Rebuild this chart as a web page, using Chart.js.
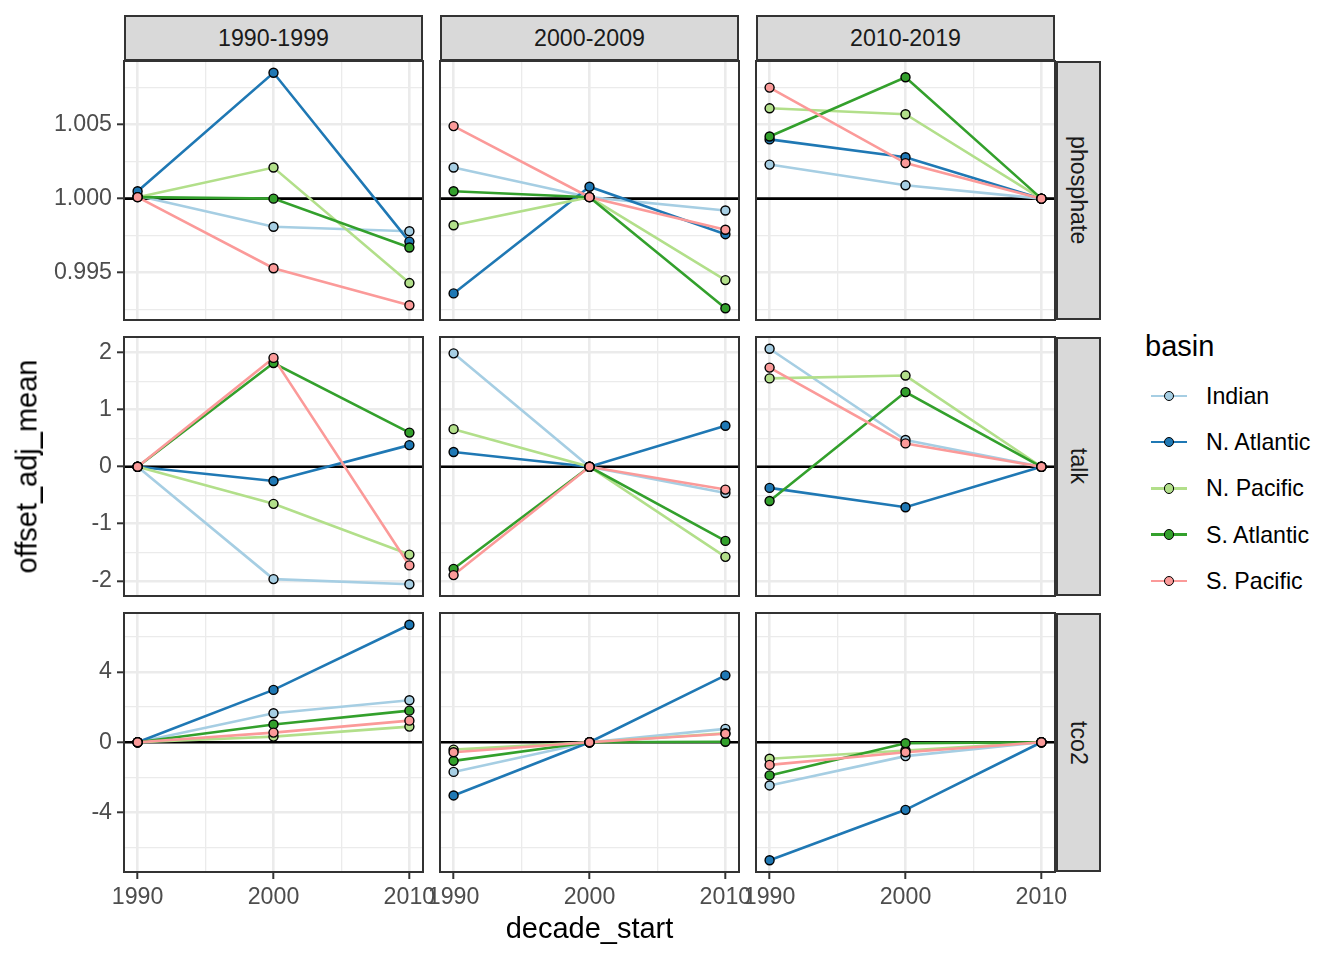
<!DOCTYPE html>
<html>
<head>
<meta charset="utf-8">
<title>offset_adj_mean by decade_start</title>
<script src="https://cdn.jsdelivr.net/npm/chart.js@4.4.0/dist/chart.umd.min.js"></script>
<style>
  body { margin: 0; background: #fff; font-family: "Liberation Sans", Arial, Helvetica, sans-serif; }
  #page { position: relative; width: 1344px; height: 960px; overflow: hidden; background: #fff; }
  canvas.panel { position: absolute; }
  .strip { position: absolute; box-sizing: border-box; background: #D9D9D9; border: 2px solid #333333;
           color: #1A1A1A; font-size: 23.2px; display: flex; align-items: center; justify-content: center; }
  .strip.right { writing-mode: vertical-rl; }
  .axis-title { position: absolute; font-size: 29px; line-height: 29px; height: 29px; color: #000; text-align: center; white-space: nowrap; }
  .legend-title { position: absolute; font-size: 29px; line-height: 29px; color: #000; }
  .legend-text { position: absolute; font-size: 23.2px; line-height: 46px; height: 46px; color: #000; white-space: nowrap; }
  .key-line { position: absolute; height: 2.6px; }
  .key-dot { position: absolute; box-sizing: border-box; width: 10.4px; height: 10.4px; border: 1.4px solid #000; border-radius: 50%; }
</style>
</head>
<body>
<div id="page"></div>
<script>
// ---- data -------------------------------------------------------------
const basins = ['Indian', 'N. Atlantic', 'N. Pacific', 'S. Atlantic', 'S. Pacific'];
const basinColors = ['#A6CEE3', '#1F78B4', '#B2DF8A', '#33A02C', '#FB9A99'];
const decadeStart = [1990, 2000, 2010];
const periods = ['1990-1999', '2000-2009', '2010-2019'];
const params = ['phosphate', 'talk', 'tco2'];

// one row per basin, one value per decade_start
const phosphate1990s = [
  [1.0002, 0.9981, 0.9978],
  [1.0005, 1.0085, 0.9971],
  [1.0001, 1.0021, 0.9943],
  [1.0001, 1.0000, 0.9967],
  [1.0001, 0.9953, 0.9928]
];
const phosphate2000s = [
  [1.0021, 1.0001, 0.9992],
  [0.9936, 1.0008, 0.9976],
  [0.9982, 1.0001, 0.9945],
  [1.0005, 1.0001, 0.9926],
  [1.0049, 1.0001, 0.9979]
];
const phosphate2010s = [
  [1.0023, 1.0009, 1.0000],
  [1.0040, 1.0028, 1.0000],
  [1.0061, 1.0057, 1.0000],
  [1.0042, 1.0082, 1.0000],
  [1.0075, 1.0024, 1.0000]
];
const talk1990s = [
  [0, -1.97, -2.06],
  [0, -0.25, 0.38],
  [0, -0.65, -1.54],
  [0, 1.82, 0.60],
  [0, 1.91, -1.73]
];
const talk2000s = [
  [1.99, 0, -0.46],
  [0.26, 0, 0.72],
  [0.66, 0, -1.58],
  [-1.79, 0, -1.30],
  [-1.90, 0, -0.40]
];
const talk2010s = [
  [2.07, 0.47, 0],
  [-0.37, -0.71, 0],
  [1.55, 1.60, 0],
  [-0.60, 1.31, 0],
  [1.74, 0.41, 0]
];
const tco21990s = [
  [0, 1.65, 2.39],
  [0, 2.98, 6.69],
  [0, 0.32, 0.89],
  [0, 1.01, 1.80],
  [0, 0.55, 1.23]
];
const tco22000s = [
  [-1.69, 0, 0.76],
  [-3.03, 0, 3.81],
  [-0.42, 0, 0.51],
  [-1.06, 0, 0.03],
  [-0.57, 0, 0.48]
];
const tco22010s = [
  [-2.46, -0.79, 0],
  [-6.72, -3.85, 0],
  [-0.94, -0.47, 0],
  [-1.89, -0.06, 0],
  [-1.29, -0.57, 0]
];

const refLine = [1, 0, 0];

const phosphateTicks = [0.995, 1.000, 1.005];
const phosphateTickLabels = ['0.995', '1.000', '1.005'];
const phosphateMinor = [0.9925, 0.9975, 1.0025, 1.0075];
const talkTicks = [-2, -1, 0, 1, 2];
const talkTickLabels = ['-2', '-1', '0', '1', '2'];
const talkMinor = [-1.5, -0.5, 0.5, 1.5];
const tco2Ticks = [-4, 0, 4];
const tco2TickLabels = ['-4', '0', '4'];
const tco2Minor = [-6, -2, 2, 6];
const xTicks = [1990, 2000, 2010];
const xTickLabels = ['1990', '2000', '2010'];
const xMinor = [1995, 2005];

// ---- layout -----------------------------------------------------------
const colLeft = [124, 440, 756];
const rowTop = [61, 337, 613];
const panelW = 299, panelH = 259;
const PAD = 40, yAxisW = 80, xAxisH = 50;
const FONT = '"Liberation Sans", Arial, Helvetica, sans-serif';
const LINE_W = 2.6;

const page = document.getElementById('page');
Chart.defaults.font.family = FONT;

const panelValues = [
  [phosphate1990s, phosphate2000s, phosphate2010s],
  [talk1990s, talk2000s, talk2010s],
  [tco21990s, tco22000s, tco22010s]
];
const rowTicks = [
  { major: phosphateTicks, labels: phosphateTickLabels, minor: phosphateMinor },
  { major: talkTicks, labels: talkTickLabels, minor: talkMinor },
  { major: tco2Ticks, labels: tco2TickLabels, minor: tco2Minor }
];

function expandedRange(values) {
  const lo = Math.min(...values), hi = Math.max(...values);
  const pad = (hi - lo) * 0.05;
  return [lo - pad, hi + pad];
}
const xRange = expandedRange(decadeStart);

function tickList(major, minor) {
  return major.map(v => ({ value: v, isMajor: true }))
    .concat(minor.map(v => ({ value: v, isMajor: false })))
    .sort((a, b) => a.value - b.value);
}

function labelFor(major, labels, value) {
  const k = major.findIndex(v => Math.abs(v - value) < 1e-9);
  return k >= 0 ? labels[k] : '';
}

const panelBorder = {
  id: 'panelBorder',
  afterDraw(chart) {
    const { ctx, chartArea: a } = chart;
    ctx.save();
    ctx.strokeStyle = '#333333';
    ctx.lineWidth = 2;
    ctx.strokeRect(a.left, a.top, a.right - a.left, a.bottom - a.top);
    ctx.restore();
  }
};

function makePanel(r, c) {
  const leftCol = c === 0, bottomRow = r === 2;
  const values = panelValues[r][c];
  const yRange = expandedRange(panelValues[r].flat(2));
  const yt = rowTicks[r];

  const canvas = document.createElement('canvas');
  canvas.className = 'panel';
  const w = panelW + 2 * PAD + (leftCol ? yAxisW : 0);
  const h = panelH + 2 * PAD + (bottomRow ? xAxisH : 0);
  canvas.width = w; canvas.height = h;
  canvas.style.width = w + 'px'; canvas.style.height = h + 'px';
  canvas.style.left = (colLeft[c] - PAD - (leftCol ? yAxisW : 0)) + 'px';
  canvas.style.top = (rowTop[r] - PAD) + 'px';
  page.appendChild(canvas);

  const datasets = [];
  datasets.push({
    data: [{ x: xRange[0], y: refLine[r] }, { x: xRange[1], y: refLine[r] }],
    borderColor: '#000000', borderWidth: LINE_W, pointRadius: 0, order: 100
  });
  basins.forEach((b, i) => {
    const pts = decadeStart.map((d, j) => ({ x: d, y: values[i][j] }));
    datasets.push({
      label: b, data: pts, borderColor: basinColors[i], borderWidth: LINE_W,
      pointRadius: 0, order: 50 - i
    });
    datasets.push({
      label: b + ' points', data: pts, showLine: false,
      pointRadius: 4.5, pointBorderWidth: 1.4,
      pointBackgroundColor: basinColors[i], pointBorderColor: '#000000',
      order: 20 - i
    });
  });

  new Chart(canvas, {
    type: 'line',
    data: { datasets },
    options: {
      responsive: false,
      animation: false,
      events: [],
      layout: { padding: { left: PAD, right: PAD, top: PAD, bottom: PAD } },
      plugins: { legend: { display: false }, tooltip: { enabled: false } },
      scales: {
        x: {
          type: 'linear', min: xRange[0], max: xRange[1], bounds: 'data',
          afterBuildTicks: s => { s.ticks = tickList(xTicks, xMinor); },
          afterFit: s => { s.height = bottomRow ? xAxisH : 0; },
          border: { display: false },
          grid: {
            color: '#EBEBEB',
            lineWidth: ctx => (ctx.tick && ctx.tick.isMajor) ? 2.6 : 1.3,
            drawTicks: bottomRow, tickLength: 7, tickWidth: 2,
            tickColor: ctx => (ctx.tick && ctx.tick.isMajor) ? '#333333' : 'rgba(0,0,0,0)'
          },
          ticks: {
            display: bottomRow, autoSkip: false, maxRotation: 0, padding: 5,
            color: '#4D4D4D', font: { size: 23.2, family: FONT },
            callback: v => labelFor(xTicks, xTickLabels, v)
          }
        },
        y: {
          type: 'linear', min: yRange[0], max: yRange[1], bounds: 'data',
          afterBuildTicks: s => { s.ticks = tickList(yt.major, yt.minor); },
          afterFit: s => { s.width = leftCol ? yAxisW : 0; },
          border: { display: false },
          grid: {
            color: '#EBEBEB',
            lineWidth: ctx => (ctx.tick && ctx.tick.isMajor) ? 2.6 : 1.3,
            drawTicks: leftCol, tickLength: 7, tickWidth: 2,
            tickColor: ctx => (ctx.tick && ctx.tick.isMajor) ? '#333333' : 'rgba(0,0,0,0)'
          },
          ticks: {
            display: leftCol, autoSkip: false, padding: 5,
            color: '#4D4D4D', font: { size: 23.2, family: FONT },
            callback: v => labelFor(yt.major, yt.labels, v)
          }
        }
      }
    },
    plugins: [panelBorder]
  });
}

function addDiv(cls, text, style) {
  const d = document.createElement('div');
  d.className = cls;
  d.textContent = text;
  Object.assign(d.style, style);
  page.appendChild(d);
  return d;
}

// strips
periods.forEach((p, c) => {
  addDiv('strip', p, { left: colLeft[c] + 'px', top: '15px', width: panelW + 'px', height: '46px' });
});
params.forEach((p, r) => {
  addDiv('strip right', p, { left: '1056px', top: rowTop[r] + 'px', width: '45px', height: panelH + 'px' });
});

// panels
for (let r = 0; r < 3; r++) {
  for (let c = 0; c < 3; c++) makePanel(r, c);
}

// axis titles
addDiv('axis-title', 'decade_start', { left: colLeft[0] + 'px', width: (colLeft[2] + panelW - colLeft[0]) + 'px', top: '914px' });
addDiv('axis-title', 'offset_adj_mean', {
  left: (27.3 - 300) + 'px', top: (466.5 - 14.5) + 'px', width: '600px', transform: 'rotate(-90deg)'
});

// legend
addDiv('legend-title', 'basin', { left: '1145px', top: '332px' });
basins.forEach((b, i) => {
  const yc = 396 + 46.2 * i;
  addDiv('key-line', '', { left: '1150.7px', width: '36.6px', top: (yc - 1.3) + 'px', background: basinColors[i] });
  addDiv('key-dot', '', { left: (1169.3 - 5.2) + 'px', top: (yc - 5.2) + 'px', background: basinColors[i] });
  addDiv('legend-text', b, { left: '1206px', top: (yc - 23) + 'px' });
});
</script>
</body>
</html>
